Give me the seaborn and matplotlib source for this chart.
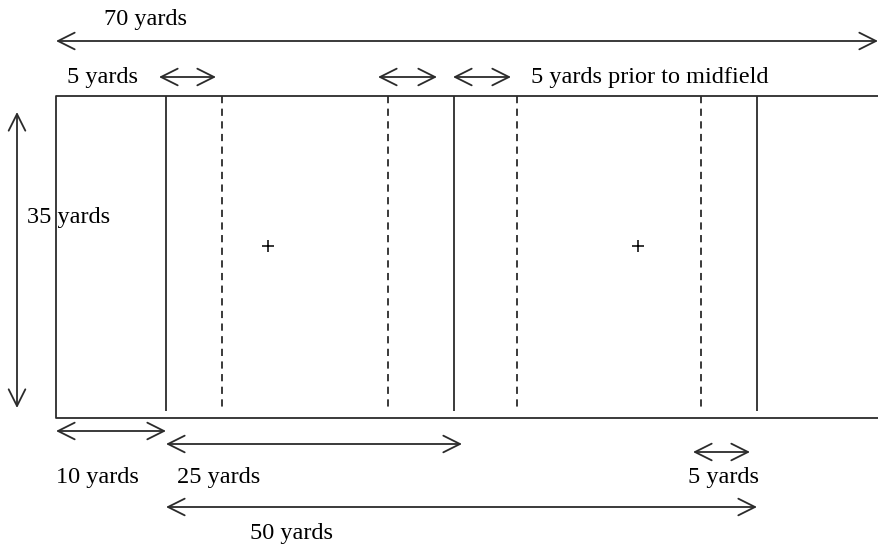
import matplotlib
matplotlib.use("Agg")
import matplotlib.pyplot as plt
import seaborn as sns
import pandas as pd
from matplotlib.patches import ArrowStyle

# Diagram coordinates (drawing units, x to the right, y downward)
field_left, field_right, field_top, field_bottom = 56, 905, 96, 418
solid_lines_x = [166, 454, 757]
dashed_lines_x = [222, 388, 517, 701]
line_top, line_bottom = 96, 411
cross_x = [268, 638]
cross_y = [246, 246]

# Double arrows: (x1, y1, x2, y2)
arrows = [
    (56, 41, 878, 41),     # 70 yards
    (159, 77, 216, 77),    # 5 yards (top left)
    (378, 77, 437, 77),
    (453, 77, 511, 77),
    (17, 112, 17, 408),    # 35 yards
    (56, 431, 166, 431),   # 10 yards
    (166, 444, 462, 444),  # 25 yards
    (693, 452, 750, 452),  # 5 yards (bottom)
    (166, 507, 757, 507),  # 50 yards
]

# Labels: (text, x_left, y_center)
labels = ["70 yards", "5 yards", "5 yards prior to midfield", "35 yards",
          "10 yards", "25 yards", "5 yards", "50 yards"]
label_x = [104, 67, 531, 27, 56, 177, 688, 250]
label_y = [20, 77, 77, 218, 477, 477, 477, 533]

sns.set_theme(style="white")
plt.rcParams["font.family"] = ["Liberation Serif", "DejaVu Serif"]

fig = plt.figure(figsize=(8.79, 5.5), dpi=100)
ax = fig.add_axes([0, 0, 1, 1])
ax.set_xlim(0, 879)
ax.set_ylim(550, 0)
ax.axis("off")

col = "#2b2b2b"
lw = 1.3

# Field rectangle
ax.plot([field_right, field_left, field_left, field_right],
        [field_top, field_top, field_bottom, field_bottom],
        color=col, lw=lw, solid_capstyle="butt")

ax.vlines(solid_lines_x, line_top, line_bottom, colors=col, lw=lw)
ax.vlines(dashed_lines_x, line_top, line_bottom, colors=col, lw=lw,
          linestyles=(0, (4, 3)))

crosses = pd.DataFrame({"x": cross_x, "y": cross_y})
sns.scatterplot(data=crosses, x="x", y="y", marker="+", s=80,
                color="black", linewidth=1.1, ax=ax, legend=False)

style = ArrowStyle("<->", head_length=1.2, head_width=0.6)
for (x1, y1, x2, y2) in arrows:
    ax.annotate("", xy=(x2, y2), xytext=(x1, y1),
                arrowprops=dict(arrowstyle=style, mutation_scale=10,
                                color=col, lw=lw, shrinkA=0, shrinkB=0))

for t, x, y in zip(labels, label_x, label_y):
    ax.text(x, y, t, fontsize=17.5, color="black", ha="left", va="center")

fig.savefig("out.png", dpi=100, facecolor="white")
